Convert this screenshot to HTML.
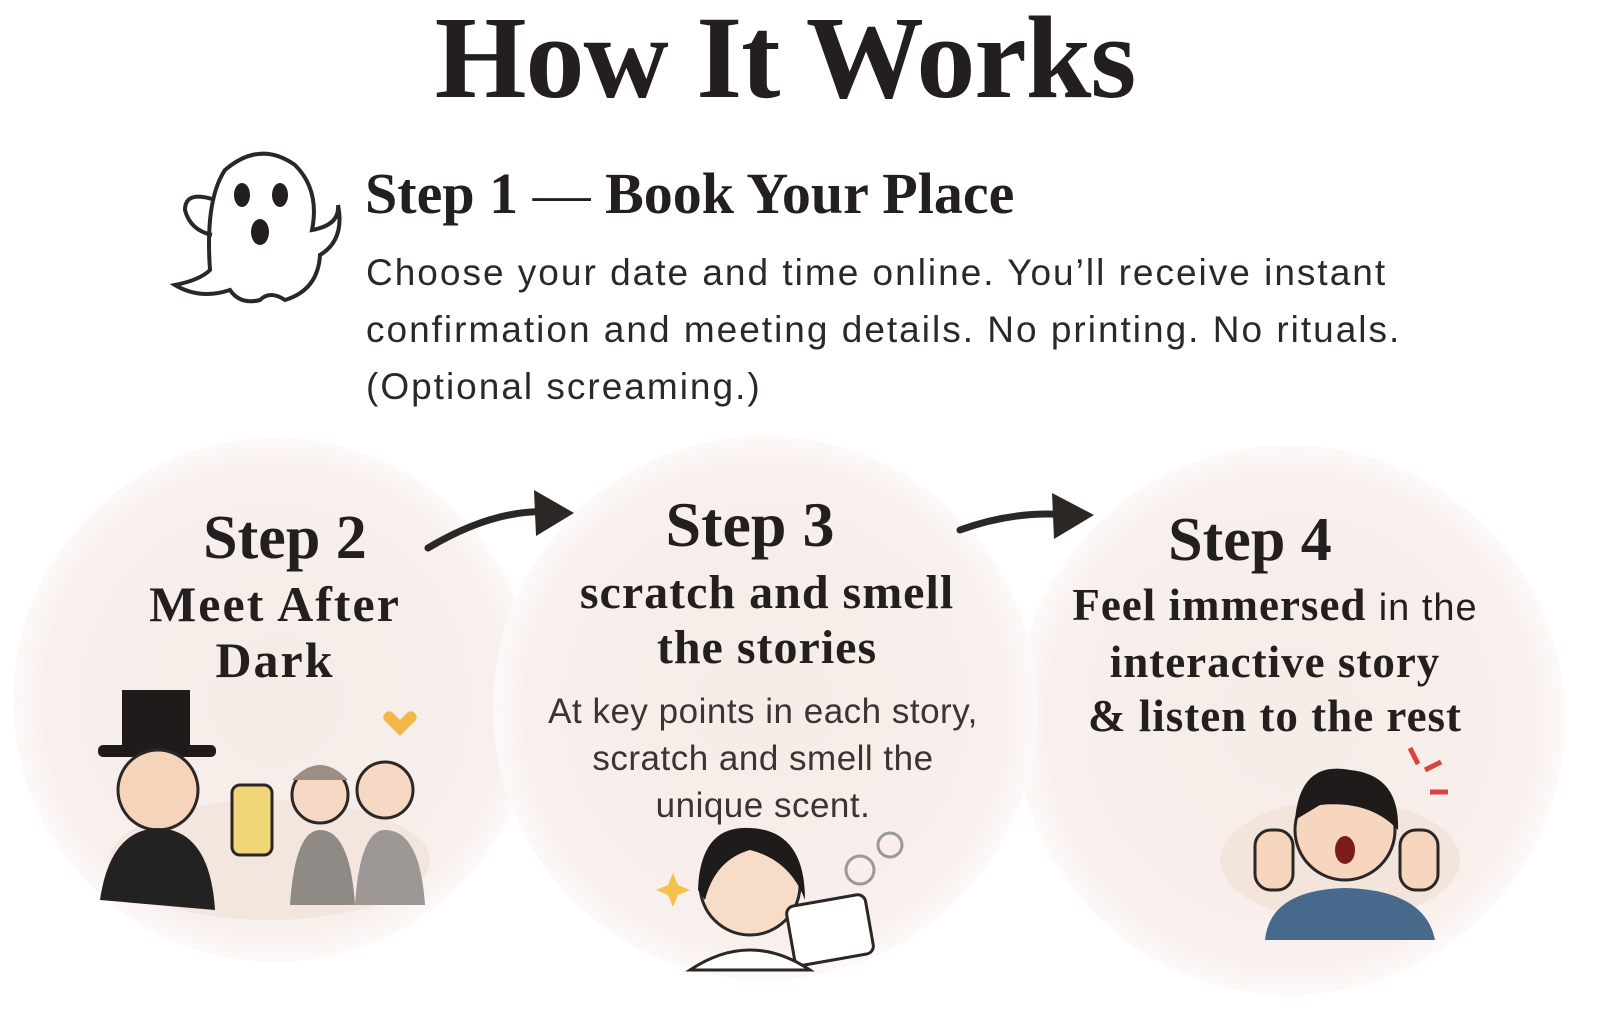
<!DOCTYPE html>
<html><head><meta charset="utf-8">
<style>
html,body{margin:0;padding:0;background:#fff;}
#c{position:relative;width:1600px;height:1031px;overflow:hidden;background:#fff;font-family:"Liberation Serif",serif;color:#231f1e;}
.t{position:absolute;white-space:nowrap;}
.serif{font-family:"Liberation Serif",serif;font-weight:bold;}
.sans{font-family:"Liberation Sans",sans-serif;}
.ctr{text-align:center;transform:translateX(-50%);}
</style></head><body><div id="c">
<svg width="1600" height="1031" style="position:absolute;left:0;top:0">
<defs>
<radialGradient id="g" cx="50%" cy="50%" r="50%">
<stop offset="0%" stop-color="#f6ece8"/><stop offset="88%" stop-color="#f8f0ed"/><stop offset="100%" stop-color="#fdf9f8"/>
</radialGradient>
</defs>
<circle cx="275" cy="700" r="262" fill="url(#g)"/>
<circle cx="1290" cy="720" r="275" fill="url(#g)"/>
<circle cx="765" cy="708" r="272" fill="url(#g)"/>
<path d="M428 548 Q495 508 552 512" stroke="#2b2725" stroke-width="7" fill="none" stroke-linecap="round"/>
<path d="M534 490 L574 513 L536 536 Z" fill="#2b2725"/>
<path d="M960 530 Q1015 510 1070 515" stroke="#2b2725" stroke-width="7" fill="none" stroke-linecap="round"/>
<path d="M1052 493 L1094 515 L1054 539 Z" fill="#2b2725"/>
<path d="M210 270 Q205 200 225 170 Q260 140 295 165 Q320 190 312 230 Q340 225 338 205 Q345 240 320 255 Q318 290 285 300 Q270 290 260 300 Q240 305 230 290 Q200 300 175 285 Q200 280 210 270 Z M215 200 Q185 190 185 210 Q190 230 212 235" fill="#fff" stroke="#2b2725" stroke-width="4"/>
<ellipse cx="242" cy="195" rx="8" ry="12" fill="#231f1e"/>
<ellipse cx="280" cy="195" rx="8" ry="12" fill="#231f1e"/>
<ellipse cx="260" cy="232" rx="9" ry="13" fill="#231f1e"/>
<ellipse cx="270" cy="860" rx="160" ry="60" fill="#f3e6df"/>
<rect x="122" y="690" width="68" height="60" fill="#1e1b1a"/>
<rect x="98" y="745" width="118" height="12" rx="5" fill="#1e1b1a"/>
<circle cx="158" cy="790" r="40" fill="#f6d4bb" stroke="#2b2725" stroke-width="3"/>
<path d="M100 900 Q110 830 158 828 Q210 830 215 910 Z" fill="#222"/>
<rect x="232" y="785" width="40" height="70" rx="8" fill="#f1d77a" stroke="#2b2725" stroke-width="3"/>
<circle cx="320" cy="795" r="28" fill="#f5d9c5" stroke="#2b2725" stroke-width="3"/>
<path d="M292 780 Q320 750 348 780" fill="#9a8e85"/>
<path d="M290 905 Q295 830 320 830 Q350 830 355 905 Z" fill="#8f8a86"/>
<circle cx="385" cy="790" r="28" fill="#f5d9c5" stroke="#2b2725" stroke-width="3"/>
<path d="M355 905 Q360 830 385 830 Q420 830 425 905 Z" fill="#9d9895"/>
<path d="M400 720 l8 -8 a6 6 0 0 1 8 8 l-16 16 l-16 -16 a6 6 0 0 1 8 -8 Z" fill="#f2b84b"/>
<circle cx="750" cy="885" r="50" fill="#f7dcc8" stroke="#2b2725" stroke-width="3"/>
<path d="M698 890 Q700 825 750 828 Q805 830 805 900 Q790 860 750 850 Q715 860 705 900 Z" fill="#1e1b1a"/>
<rect x="790" y="900" width="80" height="60" rx="8" fill="#fff" stroke="#2b2725" stroke-width="3" transform="rotate(-10 830 930)"/>
<path d="M690 970 Q750 930 810 970 Z" fill="#fff" stroke="#2b2725" stroke-width="3"/>
<circle cx="860" cy="870" r="14" fill="none" stroke="#999" stroke-width="3"/>
<circle cx="890" cy="845" r="12" fill="none" stroke="#999" stroke-width="3"/>
<path d="M668 885 l5 -12 l5 12 l12 5 l-12 5 l-5 12 l-5 -12 l-12 -5 Z" fill="#f2c24b"/>
<ellipse cx="1340" cy="860" rx="120" ry="60" fill="#f3e4dc"/>
<path d="M1265 940 Q1270 890 1345 888 Q1425 890 1435 940 Z" fill="#46698c"/>
<circle cx="1345" cy="830" r="50" fill="#f7d6bf" stroke="#2b2725" stroke-width="3"/>
<path d="M1295 820 Q1300 760 1350 770 Q1400 775 1398 830 Q1370 800 1320 805 Z" fill="#1e1b1a"/>
<ellipse cx="1345" cy="850" rx="10" ry="14" fill="#7a1c1c"/>
<rect x="1255" y="830" width="38" height="60" rx="16" fill="#f7d6bf" stroke="#2b2725" stroke-width="3"/>
<rect x="1400" y="830" width="38" height="60" rx="16" fill="#f7d6bf" stroke="#2b2725" stroke-width="3"/>
<path d="M1410 748 l8 16 M1425 770 l16 -8 M1430 792 l18 0" stroke="#d9453a" stroke-width="5"/>
</svg>

<div class="t serif ctr" style="left:785px;top:-10px;font-size:118px;letter-spacing:-1px;">How It Works</div>
<div class="t serif" style="left:365px;top:160px;font-size:58px;">Step 1 <span style="font-weight:normal">—</span> Book Your Place</div>
<div class="t sans" style="left:366px;top:244px;font-size:37px;letter-spacing:2px;line-height:57px;color:#2c2827;">Choose your date and time online. You’ll receive instant<br>confirmation and meeting details. No printing. No rituals.<br>(Optional screaming.)</div>

<div class="t serif ctr" style="left:285px;top:503px;font-size:62px;">Step 2</div>
<div class="t serif ctr" style="left:275px;top:576px;font-size:50px;letter-spacing:2px;line-height:56px;">Meet After<br>Dark</div>

<div class="t serif ctr" style="left:750px;top:488px;font-size:64px;">Step 3</div>
<div class="t serif ctr" style="left:767px;top:565px;font-size:48px;letter-spacing:1px;line-height:55px;">scratch and smell<br>the stories</div>
<div class="t sans ctr" style="left:763px;top:688px;font-size:35px;letter-spacing:0.5px;line-height:47px;color:#3a3534;">At key points in each story,<br>scratch and smell the<br>unique scent.</div>

<div class="t serif ctr" style="left:1250px;top:505px;font-size:62px;">Step 4</div>
<div class="t serif ctr" style="left:1275px;top:578px;font-size:45px;letter-spacing:1px;line-height:54px;">Feel immersed <span class="sans" style="font-weight:normal;font-size:38px">in the</span><br>interactive story<br>&amp; listen to the rest</div>
</div></body></html>
